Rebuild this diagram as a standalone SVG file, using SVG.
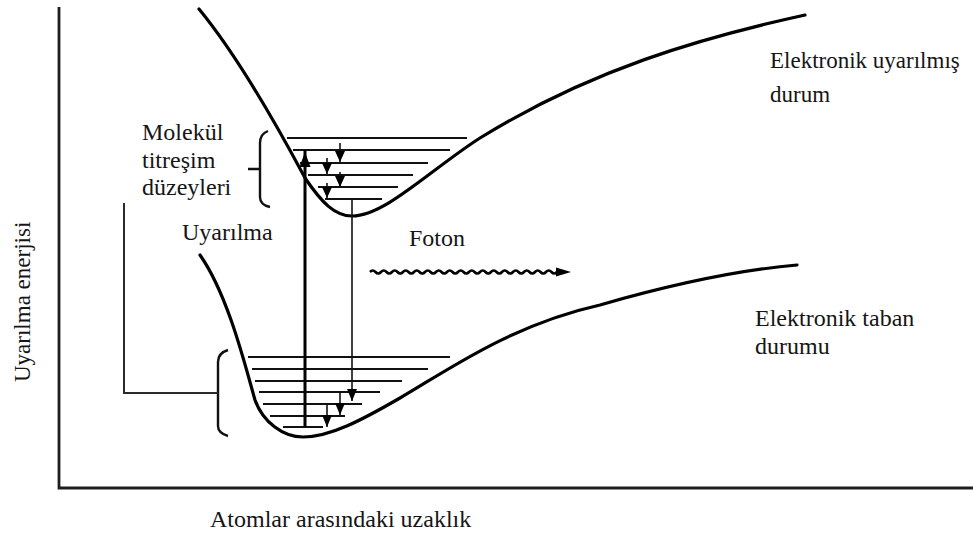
<svg xmlns="http://www.w3.org/2000/svg" width="973" height="535" viewBox="0 0 973 535">
<style>
.t{font-family:'Liberation Serif','Tinos','DejaVu Serif','Times New Roman',serif;font-size:24px;fill:#151515}
.curve{fill:none;stroke:#000;stroke-width:3.2;stroke-linecap:round}
.axis{fill:none;stroke:#1e1e1e;stroke-width:2.8}
.lvl{stroke:#111;stroke-width:2.2}
.thick{stroke:#000;stroke-width:3}
.thin{stroke:#111;stroke-width:1.6}
.brk{fill:none;stroke:#111;stroke-width:2.4}
.conn{fill:none;stroke:#2a2a2a;stroke-width:2}
.ah{fill:#000}
</style>
<rect width="973" height="535" fill="#fff"/>
<g id="axes">
<path class="axis" d="M59,7 L59,488 L973,488"/>
</g>
<g id="upper-state">
<path class="curve" d="M199,9 C245,65 290,150 305,178 C322,203 335,216 352,216 C385,216 430,170 480,138 C590,70 700,38 805,15"/>
<line class="lvl" x1="287" y1="138" x2="467" y2="138"/>
<line class="lvl" x1="293" y1="150" x2="450" y2="150"/>
<line class="lvl" x1="300" y1="163" x2="428" y2="163"/>
<line class="lvl" x1="308" y1="175" x2="413" y2="175"/>
<line class="lvl" x1="318" y1="187" x2="398" y2="187"/>
<line class="lvl" x1="325" y1="199" x2="382" y2="199"/>
</g>
<g id="lower-state">
<path class="curve" d="M200,255 C228,295 245,365 255,400 C263,422 283,437 303,437 C330,437 362,420 400,398 C445,372 510,325 600,305 C680,282 740,270 797,265"/>
<line class="lvl" x1="248" y1="357" x2="450" y2="357"/>
<line class="lvl" x1="252" y1="369" x2="428" y2="369"/>
<line class="lvl" x1="255" y1="381" x2="402" y2="381"/>
<line class="lvl" x1="259" y1="392" x2="380" y2="392"/>
<line class="lvl" x1="263" y1="404" x2="362" y2="404"/>
<line class="lvl" x1="270" y1="416" x2="345" y2="416"/>
<line class="lvl" x1="283" y1="427" x2="323" y2="427"/>
</g>
<g id="connectors">
<line class="thick" x1="305" y1="427" x2="305" y2="150"/>
<polygon class="ah" points="305,152 299.5,167 310.5,167"/>
<line class="thin" x1="352" y1="199" x2="352" y2="401"/>
<polygon class="ah" points="352,401 347,389 357,389"/>
<line class="thin" x1="340" y1="143" x2="340" y2="162"/>
<polygon class="ah" points="340,162 335,151 345,151"/>
<line class="thin" x1="327" y1="158" x2="327" y2="174"/>
<polygon class="ah" points="327,174 322,163 332,163"/>
<line class="thin" x1="340" y1="172" x2="340" y2="187"/>
<polygon class="ah" points="340,187 335,176 345,176"/>
<line class="thin" x1="327" y1="183" x2="327" y2="198"/>
<polygon class="ah" points="327,198 322,187 332,187"/>
<line class="thin" x1="340" y1="392" x2="340" y2="415"/>
<polygon class="ah" points="340,415 335,403 345,403"/>
<line class="thin" x1="327" y1="405" x2="327" y2="427"/>
<polygon class="ah" points="327,427 322,415 332,415"/>
<path class="brk" d="M268,131 Q260,134 260,143 L260,197 Q260,205 270,207 M248,169 L260,169"/>
<path class="brk" d="M228,350 Q218,353 218,362 L218,426 Q218,433 228,436"/>
<path class="conn" d="M124,203 L124,393 L218,393"/>
<path fill="none" stroke="#000" stroke-width="2.6" d="M370,272 q2.75,-3 5.5,0 t5.5,0 t5.5,0 t5.5,0 t5.5,0 t5.5,0 t5.5,0 t5.5,0 t5.5,0 t5.5,0 t5.5,0 t5.5,0 t5.5,0 t5.5,0 t5.5,0 t5.5,0 t5.5,0 t5.5,0 t5.5,0 t5.5,0 t5.5,0 t5.5,0 t5.5,0 t5.5,0 t5.5,0 t5.5,0 t5.5,0 t5.5,0 t5.5,0 t5.5,0 t5.5,0 t5.5,0 t5.5,0 t5.5,0 L565,272"/>
<polygon class="ah" points="571,272 556,267.5 556,276.5"/>
</g>
<g id="labels">
<text class="t" x="770" y="68" style="font-size:23px">Elektronik uyarılmış</text>
<text class="t" x="770" y="102" style="font-size:23px">durum</text>
<text class="t" x="755" y="326">Elektronik taban</text>
<text class="t" x="755" y="354">durumu</text>
<text class="t" x="142" y="140">Molekül</text>
<text class="t" x="142" y="168">titreşim</text>
<text class="t" x="142" y="195">düzeyleri</text>
<text class="t" x="182" y="240">Uyarılma</text>
<text class="t" x="409" y="246">Foton</text>
<text class="t" x="210" y="527">Atomlar arasındaki uzaklık</text>
<text class="t" transform="translate(30,382) rotate(-90)" style="font-size:23px">Uyarılma enerjisi</text>
</g>
</svg>
